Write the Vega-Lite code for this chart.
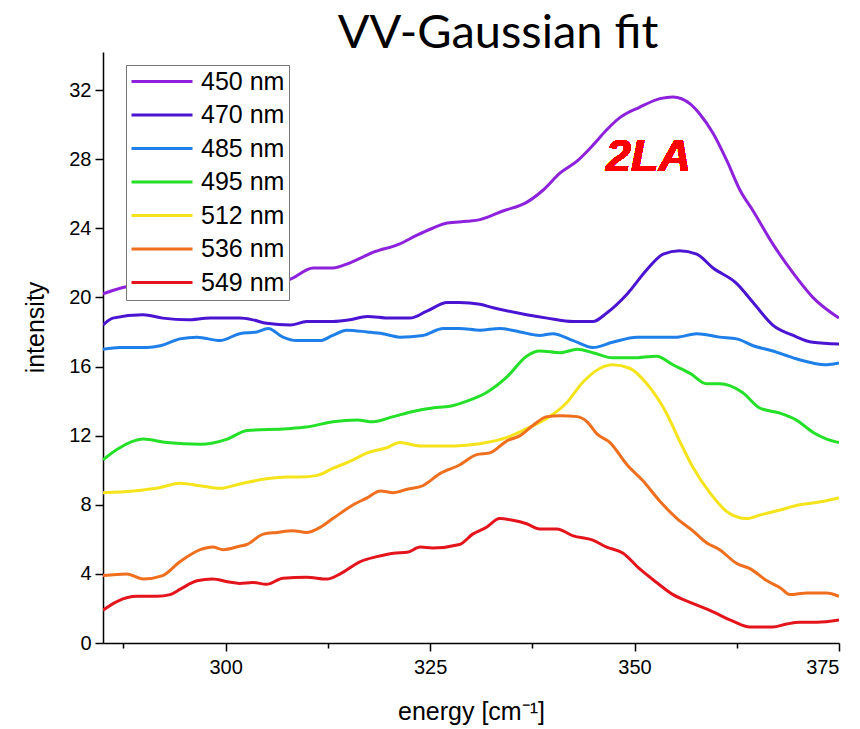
{
  "$schema": "https://vega.github.io/schema/vega-lite/v6.json",
  "autosize": {"type": "none"},
  "width": 736,
  "height": 591,
  "padding": {"left": 103, "top": 52, "right": 21, "bottom": 86},
  "background": "white",
  "title": {
    "text": "VV-Gaussian fit",
    "font": "Lato",
    "fontSize": 47,
    "fontWeight": "normal",
    "color": "black",
    "anchor": "middle",
    "dx": 27,
    "offset": -6
  },
  "config": {
    "view": {"stroke": null},
    "axis": {
      "grid": false,
      "domainColor": "black",
      "domainWidth": 1.5,
      "tickColor": "black",
      "tickWidth": 1.5,
      "labelFont": "Liberation Sans",
      "labelFontSize": 20,
      "labelColor": "black",
      "titleFont": "Liberation Sans",
      "titleFontSize": 25,
      "titleFontWeight": "normal",
      "titleColor": "black"
    }
  },
  "data": {
    "values": [
      {"s": "450 nm", "e": 285, "i": 20.2}, {"s": "450 nm", "e": 287.7, "i": 20.6}, {"s": "450 nm", "e": 292, "i": 20.8}, {"s": "450 nm", "e": 297, "i": 20.8}, {"s": "450 nm", "e": 303, "i": 20.9}, {"s": "450 nm", "e": 307.5, "i": 21.0}, {"s": "450 nm", "e": 310.7, "i": 21.7}, {"s": "450 nm", "e": 313.1, "i": 21.7}, {"s": "450 nm", "e": 315.2, "i": 22.0}, {"s": "450 nm", "e": 318, "i": 22.6}, {"s": "450 nm", "e": 321.3, "i": 23.1}, {"s": "450 nm", "e": 323.4, "i": 23.6}, {"s": "450 nm", "e": 325.3, "i": 24.0}, {"s": "450 nm", "e": 327.1, "i": 24.3}, {"s": "450 nm", "e": 329.5, "i": 24.4}, {"s": "450 nm", "e": 331.1, "i": 24.5}, {"s": "450 nm", "e": 333.9, "i": 25.0}, {"s": "450 nm", "e": 336.8, "i": 25.5}, {"s": "450 nm", "e": 338.8, "i": 26.2}, {"s": "450 nm", "e": 340.9, "i": 27.2}, {"s": "450 nm", "e": 343.0, "i": 27.9}, {"s": "450 nm", "e": 344.9, "i": 28.8}, {"s": "450 nm", "e": 346.6, "i": 29.7}, {"s": "450 nm", "e": 348.2, "i": 30.4}, {"s": "450 nm", "e": 350.6, "i": 31.0}, {"s": "450 nm", "e": 353.1, "i": 31.5}, {"s": "450 nm", "e": 354.7, "i": 31.6}, {"s": "450 nm", "e": 356.8, "i": 31.2}, {"s": "450 nm", "e": 358.0, "i": 30.6}, {"s": "450 nm", "e": 359.6, "i": 29.5}, {"s": "450 nm", "e": 361.3, "i": 27.9}, {"s": "450 nm", "e": 362.9, "i": 26.2}, {"s": "450 nm", "e": 364.5, "i": 25.0}, {"s": "450 nm", "e": 366.9, "i": 23.1}, {"s": "450 nm", "e": 369.4, "i": 21.4}, {"s": "450 nm", "e": 371.8, "i": 20.0}, {"s": "450 nm", "e": 375, "i": 18.8},
      {"s": "470 nm", "e": 285, "i": 18.4}, {"s": "470 nm", "e": 286.2, "i": 18.8}, {"s": "470 nm", "e": 289.9, "i": 19.0}, {"s": "470 nm", "e": 292.3, "i": 18.8}, {"s": "470 nm", "e": 295.3, "i": 18.7}, {"s": "470 nm", "e": 298.1, "i": 18.8}, {"s": "470 nm", "e": 301.7, "i": 18.8}, {"s": "470 nm", "e": 303.3, "i": 18.7}, {"s": "470 nm", "e": 305.0, "i": 18.5}, {"s": "470 nm", "e": 307.9, "i": 18.4}, {"s": "470 nm", "e": 309.9, "i": 18.6}, {"s": "470 nm", "e": 313.1, "i": 18.6}, {"s": "470 nm", "e": 315.2, "i": 18.7}, {"s": "470 nm", "e": 317.3, "i": 18.9}, {"s": "470 nm", "e": 320.1, "i": 18.8}, {"s": "470 nm", "e": 322.5, "i": 18.8}, {"s": "470 nm", "e": 324.6, "i": 19.2}, {"s": "470 nm", "e": 327.1, "i": 19.7}, {"s": "470 nm", "e": 328.6, "i": 19.7}, {"s": "470 nm", "e": 331.1, "i": 19.6}, {"s": "470 nm", "e": 332.7, "i": 19.4}, {"s": "470 nm", "e": 336.8, "i": 19.0}, {"s": "470 nm", "e": 339.3, "i": 18.8}, {"s": "470 nm", "e": 342.5, "i": 18.6}, {"s": "470 nm", "e": 344.9, "i": 18.6}, {"s": "470 nm", "e": 346.6, "i": 19.1}, {"s": "470 nm", "e": 349.1, "i": 20.2}, {"s": "470 nm", "e": 351.5, "i": 21.6}, {"s": "470 nm", "e": 353.5, "i": 22.5}, {"s": "470 nm", "e": 355.5, "i": 22.7}, {"s": "470 nm", "e": 357.6, "i": 22.5}, {"s": "470 nm", "e": 359.6, "i": 21.7}, {"s": "470 nm", "e": 362.5, "i": 20.8}, {"s": "470 nm", "e": 364.5, "i": 19.7}, {"s": "470 nm", "e": 366.9, "i": 18.4}, {"s": "470 nm", "e": 369.4, "i": 17.8}, {"s": "470 nm", "e": 371.8, "i": 17.4}, {"s": "470 nm", "e": 375, "i": 17.3},
      {"s": "485 nm", "e": 285, "i": 17.0}, {"s": "485 nm", "e": 287.1, "i": 17.1}, {"s": "485 nm", "e": 290.4, "i": 17.1}, {"s": "485 nm", "e": 292.0, "i": 17.2}, {"s": "485 nm", "e": 294.4, "i": 17.6}, {"s": "485 nm", "e": 296.5, "i": 17.7}, {"s": "485 nm", "e": 299.3, "i": 17.5}, {"s": "485 nm", "e": 301.7, "i": 17.9}, {"s": "485 nm", "e": 303.8, "i": 18.0}, {"s": "485 nm", "e": 305.2, "i": 18.2}, {"s": "485 nm", "e": 307.0, "i": 17.7}, {"s": "485 nm", "e": 308.7, "i": 17.5}, {"s": "485 nm", "e": 311.5, "i": 17.5}, {"s": "485 nm", "e": 313.1, "i": 17.8}, {"s": "485 nm", "e": 314.8, "i": 18.1}, {"s": "485 nm", "e": 317.3, "i": 18.0}, {"s": "485 nm", "e": 319.2, "i": 17.9}, {"s": "485 nm", "e": 321.3, "i": 17.7}, {"s": "485 nm", "e": 324.1, "i": 17.8}, {"s": "485 nm", "e": 326.6, "i": 18.2}, {"s": "485 nm", "e": 328.6, "i": 18.2}, {"s": "485 nm", "e": 331.1, "i": 18.1}, {"s": "485 nm", "e": 333.5, "i": 18.2}, {"s": "485 nm", "e": 336.0, "i": 18.0}, {"s": "485 nm", "e": 338.4, "i": 17.8}, {"s": "485 nm", "e": 340.0, "i": 17.9}, {"s": "485 nm", "e": 342.5, "i": 17.5}, {"s": "485 nm", "e": 344.9, "i": 17.1}, {"s": "485 nm", "e": 347.3, "i": 17.4}, {"s": "485 nm", "e": 350.3, "i": 17.7}, {"s": "485 nm", "e": 353.1, "i": 17.7}, {"s": "485 nm", "e": 355.2, "i": 17.7}, {"s": "485 nm", "e": 357.6, "i": 17.9}, {"s": "485 nm", "e": 360.4, "i": 17.7}, {"s": "485 nm", "e": 362.5, "i": 17.6}, {"s": "485 nm", "e": 364.5, "i": 17.2}, {"s": "485 nm", "e": 366.9, "i": 16.9}, {"s": "485 nm", "e": 369.4, "i": 16.5}, {"s": "485 nm", "e": 371.8, "i": 16.2}, {"s": "485 nm", "e": 373.5, "i": 16.1}, {"s": "485 nm", "e": 375, "i": 16.2},
      {"s": "495 nm", "e": 285, "i": 10.6}, {"s": "495 nm", "e": 286.7, "i": 11.2}, {"s": "495 nm", "e": 289.9, "i": 11.8}, {"s": "495 nm", "e": 292.8, "i": 11.6}, {"s": "495 nm", "e": 296.9, "i": 11.5}, {"s": "495 nm", "e": 300.2, "i": 11.8}, {"s": "495 nm", "e": 302.6, "i": 12.3}, {"s": "495 nm", "e": 307.5, "i": 12.4}, {"s": "495 nm", "e": 309.9, "i": 12.5}, {"s": "495 nm", "e": 313.1, "i": 12.8}, {"s": "495 nm", "e": 316.1, "i": 12.9}, {"s": "495 nm", "e": 318.0, "i": 12.8}, {"s": "495 nm", "e": 320.5, "i": 13.1}, {"s": "495 nm", "e": 322.9, "i": 13.4}, {"s": "495 nm", "e": 325.3, "i": 13.6}, {"s": "495 nm", "e": 327.4, "i": 13.7}, {"s": "495 nm", "e": 329.5, "i": 14.0}, {"s": "495 nm", "e": 331.9, "i": 14.5}, {"s": "495 nm", "e": 334.4, "i": 15.4}, {"s": "495 nm", "e": 336.8, "i": 16.6}, {"s": "495 nm", "e": 338.4, "i": 16.9}, {"s": "495 nm", "e": 340.9, "i": 16.8}, {"s": "495 nm", "e": 343.0, "i": 17.0}, {"s": "495 nm", "e": 344.9, "i": 16.8}, {"s": "495 nm", "e": 347.3, "i": 16.5}, {"s": "495 nm", "e": 349.8, "i": 16.5}, {"s": "495 nm", "e": 352.7, "i": 16.6}, {"s": "495 nm", "e": 354.7, "i": 16.1}, {"s": "495 nm", "e": 356.8, "i": 15.6}, {"s": "495 nm", "e": 358.8, "i": 15.0}, {"s": "495 nm", "e": 360.4, "i": 15.0}, {"s": "495 nm", "e": 363.2, "i": 14.5}, {"s": "495 nm", "e": 365.3, "i": 13.6}, {"s": "495 nm", "e": 367.8, "i": 13.3}, {"s": "495 nm", "e": 369.8, "i": 12.9}, {"s": "495 nm", "e": 371.8, "i": 12.2}, {"s": "495 nm", "e": 373.5, "i": 11.8}, {"s": "495 nm", "e": 375, "i": 11.6},
      {"s": "512 nm", "e": 285, "i": 8.7}, {"s": "512 nm", "e": 288.7, "i": 8.8}, {"s": "512 nm", "e": 292.0, "i": 9.0}, {"s": "512 nm", "e": 294.4, "i": 9.25}, {"s": "512 nm", "e": 296.9, "i": 9.1}, {"s": "512 nm", "e": 299.3, "i": 8.95}, {"s": "512 nm", "e": 301.7, "i": 9.2}, {"s": "512 nm", "e": 305.0, "i": 9.5}, {"s": "512 nm", "e": 307.5, "i": 9.6}, {"s": "512 nm", "e": 309.1, "i": 9.6}, {"s": "512 nm", "e": 311.2, "i": 9.7}, {"s": "512 nm", "e": 313.1, "i": 10.1}, {"s": "512 nm", "e": 315.6, "i": 10.6}, {"s": "512 nm", "e": 317.3, "i": 11.0}, {"s": "512 nm", "e": 319.7, "i": 11.3}, {"s": "512 nm", "e": 321.3, "i": 11.6}, {"s": "512 nm", "e": 323.8, "i": 11.4}, {"s": "512 nm", "e": 325.3, "i": 11.4}, {"s": "512 nm", "e": 327.8, "i": 11.4}, {"s": "512 nm", "e": 329.5, "i": 11.45}, {"s": "512 nm", "e": 331.9, "i": 11.6}, {"s": "512 nm", "e": 334.4, "i": 11.9}, {"s": "512 nm", "e": 336.8, "i": 12.4}, {"s": "512 nm", "e": 339.3, "i": 13.0}, {"s": "512 nm", "e": 341.7, "i": 13.9}, {"s": "512 nm", "e": 343.7, "i": 15.1}, {"s": "512 nm", "e": 345.8, "i": 15.9}, {"s": "512 nm", "e": 347.3, "i": 16.1}, {"s": "512 nm", "e": 349.4, "i": 15.9}, {"s": "512 nm", "e": 351.5, "i": 15.0}, {"s": "512 nm", "e": 353.9, "i": 13.3}, {"s": "512 nm", "e": 355.5, "i": 11.7}, {"s": "512 nm", "e": 357.1, "i": 10.2}, {"s": "512 nm", "e": 359.2, "i": 8.7}, {"s": "512 nm", "e": 361.3, "i": 7.6}, {"s": "512 nm", "e": 363.7, "i": 7.2}, {"s": "512 nm", "e": 365.3, "i": 7.4}, {"s": "512 nm", "e": 367.8, "i": 7.7}, {"s": "512 nm", "e": 370.2, "i": 8.0}, {"s": "512 nm", "e": 371.8, "i": 8.1}, {"s": "512 nm", "e": 375, "i": 8.4},
      {"s": "536 nm", "e": 285, "i": 3.9}, {"s": "536 nm", "e": 287.9, "i": 4.0}, {"s": "536 nm", "e": 289.9, "i": 3.7}, {"s": "536 nm", "e": 292.3, "i": 3.9}, {"s": "536 nm", "e": 294.4, "i": 4.7}, {"s": "536 nm", "e": 296.9, "i": 5.4}, {"s": "536 nm", "e": 298.4, "i": 5.55}, {"s": "536 nm", "e": 299.7, "i": 5.4}, {"s": "536 nm", "e": 301.7, "i": 5.6}, {"s": "536 nm", "e": 302.6, "i": 5.7}, {"s": "536 nm", "e": 304.6, "i": 6.3}, {"s": "536 nm", "e": 306.3, "i": 6.4}, {"s": "536 nm", "e": 308.2, "i": 6.5}, {"s": "536 nm", "e": 309.9, "i": 6.4}, {"s": "536 nm", "e": 311.2, "i": 6.6}, {"s": "536 nm", "e": 313.1, "i": 7.2}, {"s": "536 nm", "e": 315.6, "i": 8.0}, {"s": "536 nm", "e": 317.3, "i": 8.4}, {"s": "536 nm", "e": 318.9, "i": 8.8}, {"s": "536 nm", "e": 320.5, "i": 8.7}, {"s": "536 nm", "e": 322.2, "i": 8.9}, {"s": "536 nm", "e": 324.1, "i": 9.1}, {"s": "536 nm", "e": 326.2, "i": 9.8}, {"s": "536 nm", "e": 328.6, "i": 10.3}, {"s": "536 nm", "e": 330.7, "i": 10.9}, {"s": "536 nm", "e": 332.3, "i": 11.0}, {"s": "536 nm", "e": 334.4, "i": 11.7}, {"s": "536 nm", "e": 336.0, "i": 12.0}, {"s": "536 nm", "e": 337.6, "i": 12.6}, {"s": "536 nm", "e": 339.3, "i": 13.1}, {"s": "536 nm", "e": 340.9, "i": 13.15}, {"s": "536 nm", "e": 343.0, "i": 13.1}, {"s": "536 nm", "e": 344.2, "i": 12.8}, {"s": "536 nm", "e": 345.4, "i": 12.1}, {"s": "536 nm", "e": 347.0, "i": 11.6}, {"s": "536 nm", "e": 349.1, "i": 10.3}, {"s": "536 nm", "e": 351.0, "i": 9.4}, {"s": "536 nm", "e": 353.1, "i": 8.2}, {"s": "536 nm", "e": 355.2, "i": 7.2}, {"s": "536 nm", "e": 357.1, "i": 6.5}, {"s": "536 nm", "e": 358.8, "i": 5.8}, {"s": "536 nm", "e": 360.4, "i": 5.4}, {"s": "536 nm", "e": 362.5, "i": 4.6}, {"s": "536 nm", "e": 364.1, "i": 4.3}, {"s": "536 nm", "e": 366.2, "i": 3.6}, {"s": "536 nm", "e": 367.8, "i": 3.2}, {"s": "536 nm", "e": 369.0, "i": 2.8}, {"s": "536 nm", "e": 371.1, "i": 2.9}, {"s": "536 nm", "e": 373.5, "i": 2.9}, {"s": "536 nm", "e": 375, "i": 2.7},
      {"s": "549 nm", "e": 285, "i": 1.9}, {"s": "549 nm", "e": 286.7, "i": 2.4}, {"s": "549 nm", "e": 289.2, "i": 2.7}, {"s": "549 nm", "e": 291.6, "i": 2.7}, {"s": "549 nm", "e": 293.2, "i": 2.8}, {"s": "549 nm", "e": 294.4, "i": 3.1}, {"s": "549 nm", "e": 296.5, "i": 3.6}, {"s": "549 nm", "e": 298.4, "i": 3.7}, {"s": "549 nm", "e": 300.2, "i": 3.55}, {"s": "549 nm", "e": 301.7, "i": 3.45}, {"s": "549 nm", "e": 303.3, "i": 3.5}, {"s": "549 nm", "e": 305.0, "i": 3.4}, {"s": "549 nm", "e": 307.0, "i": 3.75}, {"s": "549 nm", "e": 309.9, "i": 3.8}, {"s": "549 nm", "e": 312.4, "i": 3.7}, {"s": "549 nm", "e": 314.0, "i": 4.0}, {"s": "549 nm", "e": 316.4, "i": 4.7}, {"s": "549 nm", "e": 318.5, "i": 5.0}, {"s": "549 nm", "e": 320.5, "i": 5.2}, {"s": "549 nm", "e": 322.2, "i": 5.25}, {"s": "549 nm", "e": 323.8, "i": 5.55}, {"s": "549 nm", "e": 325.3, "i": 5.5}, {"s": "549 nm", "e": 328.6, "i": 5.7}, {"s": "549 nm", "e": 330.2, "i": 6.3}, {"s": "549 nm", "e": 331.9, "i": 6.7}, {"s": "549 nm", "e": 333.5, "i": 7.2}, {"s": "549 nm", "e": 335.1, "i": 7.1}, {"s": "549 nm", "e": 336.8, "i": 6.9}, {"s": "549 nm", "e": 338.4, "i": 6.6}, {"s": "549 nm", "e": 340.5, "i": 6.6}, {"s": "549 nm", "e": 342.5, "i": 6.2}, {"s": "549 nm", "e": 344.9, "i": 5.95}, {"s": "549 nm", "e": 346.6, "i": 5.55}, {"s": "549 nm", "e": 348.6, "i": 5.2}, {"s": "549 nm", "e": 350.6, "i": 4.3}, {"s": "549 nm", "e": 352.7, "i": 3.5}, {"s": "549 nm", "e": 354.7, "i": 2.8}, {"s": "549 nm", "e": 357.1, "i": 2.3}, {"s": "549 nm", "e": 359.6, "i": 1.8}, {"s": "549 nm", "e": 362.0, "i": 1.27}, {"s": "549 nm", "e": 364.1, "i": 0.92}, {"s": "549 nm", "e": 366.9, "i": 0.92}, {"s": "549 nm", "e": 368.6, "i": 1.1}, {"s": "549 nm", "e": 370.2, "i": 1.2}, {"s": "549 nm", "e": 372.3, "i": 1.2}, {"s": "549 nm", "e": 375, "i": 1.33}
    ]
  },
  "layer": [
    {
      "mark": {"type": "line", "strokeWidth": 3, "interpolate": "monotone", "clip": true},
      "encoding": {
        "x": {
          "field": "e",
          "type": "quantitative",
          "scale": {"domain": [285, 375], "nice": false, "zero": false},
          "axis": {
            "title": "energy [cm⁻¹]",
            "values": [287.5, 300, 312.5, 325, 337.5, 350, 362.5, 375],
            "labelExpr": "datum.value % 25 === 0 ? datum.label : ''",
            "tickSize": {"condition": {"test": "datum.value % 25 === 0", "value": 8}, "value": 5},
            "labelPadding": 6,
            "titlePadding": 22
          }
        },
        "y": {
          "field": "i",
          "type": "quantitative",
          "scale": {"domain": [0, 34.2], "nice": false},
          "axis": {
            "title": "intensity",
            "values": [0, 2, 4, 6, 8, 10, 12, 14, 16, 18, 20, 22, 24, 26, 28, 30, 32, 34],
            "labelExpr": "datum.value % 4 === 0 ? datum.label : ''",
            "tickSize": {"condition": {"test": "datum.value % 4 === 0", "value": 8}, "value": 5},
            "labelPadding": 4,
            "titlePadding": 20,
            "titleY": 275
          }
        },
        "color": {
          "field": "s",
          "type": "nominal",
          "scale": {
            "domain": ["450 nm", "470 nm", "485 nm", "495 nm", "512 nm", "536 nm", "549 nm"],
            "range": ["#8E22DC", "#4A14D2", "#1F7FE8", "#25E028", "#F5E31C", "#EF6F1E", "#E3141C"]
          },
          "legend": {
            "title": null,
            "orient": "none",
            "legendX": 23,
            "legendY": 13,
            "fillColor": "white",
            "strokeColor": "#777777",
            "padding": 4,
            "symbolType": "stroke",
            "symbolSize": 3721,
            "symbolStrokeWidth": 3,
            "symbolOffset": 0,
            "labelOffset": 7,
            "labelFont": "Liberation Sans",
            "labelFontSize": 25,
            "labelColor": "black",
            "rowPadding": 7.5,
            "clipHeight": 25
          }
        }
      }
    },
    {
      "mark": {"type": "text", "font": "Liberation Sans", "fontSize": 45, "fontWeight": "bold", "fontStyle": "italic", "color": "#FF0000", "align": "center", "baseline": "middle"},
      "encoding": {
        "x": {"datum": 351.7},
        "y": {"datum": 28.1},
        "text": {"value": "2LA"}
      }
    }
  ]
}
